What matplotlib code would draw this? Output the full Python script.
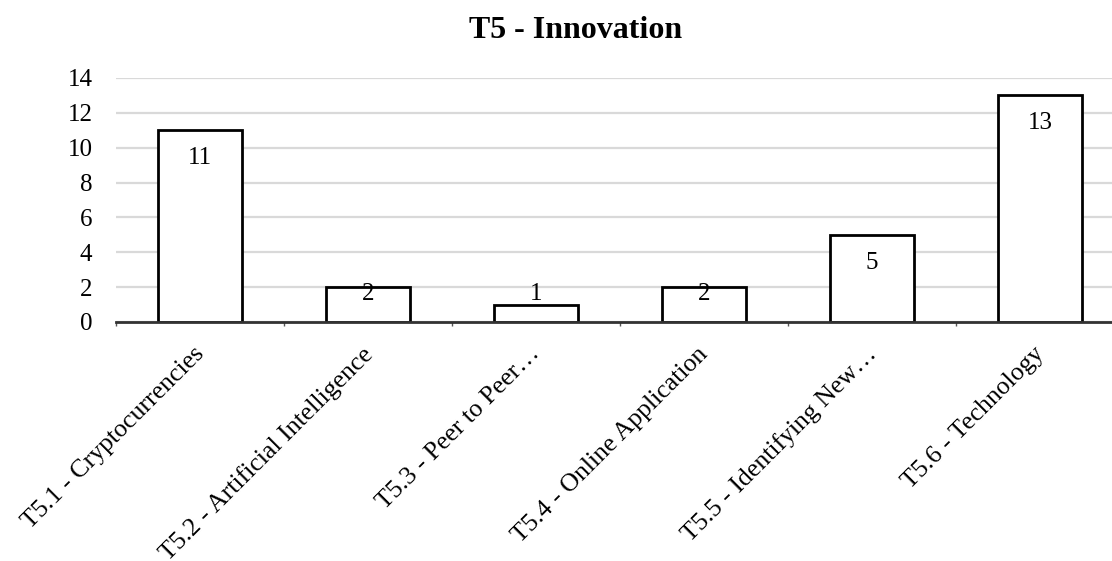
#!/usr/bin/env python3
"""
Bar chart: T5 - Innovation
"""

import matplotlib
matplotlib.use('Agg')
import matplotlib.pyplot as plt
from matplotlib.transforms import ScaledTranslation
import numpy as np

categories = [
    'T5.1 - Cryptocurrencies',
    'T5.2 - Artificial Intelligence',
    'T5.3 - Peer to Peer\u2026',
    'T5.4 - Online Application',
    'T5.5 - Identifying New\u2026',
    'T5.6 - Technology',
]
counts = [11, 2, 1, 2, 5, 13]
y_ticks = [0, 2, 4, 6, 8, 10, 12, 14]

plt.rcParams['font.family'] = ['Liberation Serif', 'DejaVu Serif']

W, H = 1112, 561
fig = plt.figure(figsize=(W / 100, H / 100), dpi=100)
ax = fig.add_axes([116 / W, 1 - 322 / H, 1008 / W, 244 / H])

x = np.arange(len(categories))
ax.bar(x, counts, width=0.5, color='white', edgecolor='black', linewidth=2, zorder=3)

ax.set_xlim(-0.5, len(categories) - 0.5)
ax.set_ylim(0, 14)
ax.set_yticks(y_ticks)
ax.yaxis.grid(True, color='#d9d9d9', linewidth=1.6, zorder=0)
ax.set_axisbelow(True)

for side in ['top', 'right', 'left']:
    ax.spines[side].set_visible(False)
ax.spines['bottom'].set_color('#333333')
ax.spines['bottom'].set_linewidth(2)
ax.spines['bottom'].set_zorder(4)

ax.tick_params(axis='y', length=0, pad=17, labelsize=18)
ax.set_xticks(x)
ax.set_xticklabels(categories, rotation=45, ha='right', va='top',
                   rotation_mode='anchor', fontsize=18.5)
ax.tick_params(axis='x', length=0, pad=10)
shift = ScaledTranslation(-7 / 100, -7 / 100, fig.dpi_scale_trans)
for lbl in ax.get_xticklabels():
    lbl.set_transform(lbl.get_transform() + shift)
# small tick marks at category boundaries
ax.set_xticks(np.arange(-0.5, len(categories)), minor=True)
ax.tick_params(axis='x', which='minor', length=3, width=1, color='#555555')

# value labels at the inside end of each bar
px_per_unit = 244 / 14
for xi, v in zip(x, counts):
    yl = max(v - 28 / px_per_unit, 1.6)
    ax.text(xi, yl, str(v), ha='center', va='center', fontsize=18, zorder=5)

fig.text(576 / W, 1 - 30 / H, 'T5 - Innovation', ha='center', va='center',
         fontsize=23, fontweight='bold')

plt.savefig('out.png', dpi=100)
